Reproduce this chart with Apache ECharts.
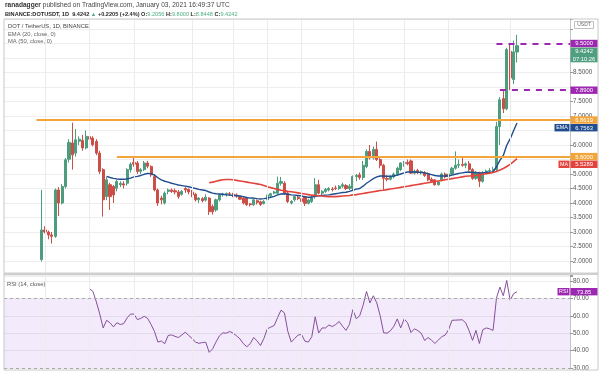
<!DOCTYPE html>
<html><head><meta charset="utf-8">
<script src="https://cdn.jsdelivr.net/npm/echarts@6/dist/echarts.min.js"></script>
<style>html,body{margin:0;padding:0;background:#fff}#c{width:600px;height:371px}</style>
</head><body><div id="c"></div><script>
// ---- data (daily candles, index 0 = first day) ----
const opens = [2.05,3.07,3.0,2.9,2.85,4.45,4.0,4.57,5.51,6.07,5.72,6.13,6.16,5.9,6.29,6.24,6.12,5.72,5.15,4.22,
4.63,4.57,4.51,4.63,4.66,4.68,5.15,5.4,5.38,5.09,5.15,5.38,5.26,4.91,4.45,4.17,4.0,4.4,4.45,4.42,
4.38,4.3,4.5,4.47,4.38,4.3,4.11,4.15,4.1,4.17,3.88,3.76,4.11,4.28,4.3,4.32,4.3,4.28,4.22,4.17,
4.17,3.97,3.94,4.08,4.04,3.98,4.11,4.26,4.34,4.34,4.68,4.68,4.34,4.0,4.11,4.2,4.15,4.22,3.99,4.05,
4.22,4.63,4.34,4.4,4.45,4.48,4.52,4.5,4.58,4.6,4.5,4.5,4.91,4.97,4.88,5.26,5.78,5.55,5.85,5.5,
5.3,4.85,4.82,4.9,4.97,5.15,5.36,5.4,5.45,5.03,5.12,5.05,5.05,5.0,4.82,4.8,4.63,4.8,5.0,4.9,
5.0,5.2,5.3,5.33,5.3,5.35,5.15,4.85,5.05,4.75,5.05,5.1,5.12,5.15,6.64,7.6,7.25,9.23,8.26,9.2056];
const highs = [4.45,3.2,3.05,3.0,4.5,4.55,4.65,5.55,6.2,6.77,6.55,6.3,6.35,6.5,6.87,6.3,6.2,5.8,5.2,4.9,
4.7,4.62,4.8,4.75,4.75,5.2,5.4,5.6,5.45,5.2,5.45,5.45,5.3,5.0,4.5,4.25,4.4,4.5,4.5,4.5,
4.45,4.45,4.55,4.5,4.45,4.35,4.2,4.2,4.3,4.2,3.95,4.15,4.32,4.35,4.36,4.38,4.35,4.33,4.25,4.2,
4.2,4.0,4.15,4.12,4.08,4.1,4.32,4.35,4.42,4.91,4.9,4.75,4.4,4.1,4.25,4.25,4.2,4.25,4.15,4.25,
4.86,4.8,4.45,4.52,4.55,4.55,4.6,4.62,4.7,4.65,4.65,4.95,5.0,5.05,5.45,5.85,6.0,5.95,6.12,5.6,
5.35,4.95,4.95,5.05,5.25,5.4,5.45,5.5,5.5,5.15,5.18,5.12,5.1,5.05,4.88,4.82,4.75,5.05,5.05,5.05,
5.25,5.78,5.5,5.6,5.4,5.45,5.2,5.1,5.08,5.1,5.15,5.2,5.25,6.8,7.65,7.9,9.35,9.5,9.6,9.8];
const lows = [1.98,2.95,2.75,2.6,2.8,3.55,3.95,4.5,5.4,5.15,5.6,6.0,5.8,5.85,6.1,5.95,5.65,5.0,3.53,4.1,
3.76,4.0,4.4,4.55,4.5,4.6,5.05,5.25,5.0,5.0,5.1,5.2,4.9,4.4,3.9,3.95,3.95,4.3,4.35,4.3,
4.15,4.25,4.35,4.3,4.2,4.05,4.0,4.02,4.05,3.59,3.6,3.7,4.05,4.22,4.22,4.25,4.2,4.18,4.1,3.95,
3.9,3.88,3.9,3.95,3.9,3.95,4.05,4.2,4.3,4.3,4.6,4.3,4.0,3.95,4.05,4.1,4.0,3.9,3.95,4.0,
4.15,4.3,4.25,4.35,4.4,4.4,4.45,4.45,4.52,4.45,4.45,4.45,4.75,4.8,4.8,5.2,5.5,5.5,5.45,5.2,
4.45,4.75,4.78,4.85,4.95,5.1,5.25,5.3,5.0,4.98,5.0,4.98,4.9,4.75,4.7,4.6,4.6,4.75,4.85,4.85,
4.95,5.15,5.2,5.25,5.2,5.1,4.8,4.8,4.55,4.7,5.0,5.02,5.05,5.1,6.0,7.1,7.2,7.89,8.1,8.8448];
const closes = [3.07,3.0,2.9,2.85,4.45,4.0,4.57,5.49,6.09,5.66,6.18,6.2,5.9,6.3,6.2,6.01,5.72,5.09,4.11,4.8,
4.22,4.28,4.74,4.68,4.62,5.15,5.34,5.34,5.09,5.15,5.38,5.27,4.97,4.45,4.0,4.11,4.34,4.45,4.4,4.38,
4.22,4.4,4.45,4.38,4.28,4.11,4.17,4.08,4.2,3.7,3.7,4.11,4.28,4.31,4.33,4.3,4.26,4.24,4.13,4.0,
3.94,3.94,4.11,4.02,3.95,4.05,4.28,4.32,4.38,4.68,4.74,4.34,4.05,4.05,4.22,4.15,4.05,3.99,4.1,4.2,
4.63,4.34,4.4,4.47,4.5,4.46,4.5,4.58,4.63,4.5,4.58,4.91,4.95,4.88,5.3,5.78,5.55,5.85,5.5,5.3,
4.85,4.82,4.9,5.0,5.2,5.38,5.4,5.35,5.03,5.1,5.05,5.08,4.95,4.8,4.75,4.63,4.72,5.0,4.9,5.0,
5.2,5.3,5.33,5.3,5.35,5.15,4.85,5.05,4.75,5.05,5.1,5.12,5.15,6.64,7.56,7.25,9.29,8.31,9.21,9.4242];
const emaStart = 19;
const ema20 = [4.92,4.88,4.85,4.83,4.82,4.82,4.83,4.86,4.9,4.92,
4.95,4.99,5.02,5.01,4.96,4.87,4.8,4.75,4.72,4.68,
4.65,4.62,4.6,4.58,4.56,4.53,4.5,4.47,4.45,4.43,
4.38,4.34,4.32,4.31,4.3,4.28,4.27,4.26,4.25,4.24,
4.22,4.19,4.17,4.17,4.15,4.14,4.15,4.17,4.2,4.23,
4.28,4.31,4.32,4.3,4.28,4.27,4.26,4.24,4.21,4.2,
4.2,4.24,4.25,4.26,4.27,4.28,4.3,4.32,4.34,4.36,
4.37,4.4,4.44,4.48,4.5,4.58,4.68,4.76,4.84,4.9,
4.93,4.93,4.92,4.92,4.93,4.96,5.0,5.04,5.07,5.07,
5.07,5.06,5.05,5.04,5.01,4.98,4.95,4.93,4.93,4.93,
4.94,4.96,4.99,5.02,5.04,5.06,5.07,5.05,5.05,5.03,
5.04,5.05,5.06,5.07,5.25,5.47,5.64,5.99,6.21,6.49,
6.7563];
const maStart = 49;
const ma50 = [4.7,4.72,4.75,4.78,4.8,4.81,4.81,4.8,4.78,4.76,
4.74,4.72,4.7,4.68,4.66,4.64,4.6,4.56,4.53,4.5,
4.47,4.44,4.42,4.4,4.39,4.37,4.35,4.33,4.31,4.29,
4.27,4.26,4.25,4.24,4.23,4.22,4.22,4.22,4.23,4.24,
4.25,4.26,4.28,4.29,4.31,4.33,4.35,4.37,4.39,4.41,
4.43,4.44,4.46,4.48,4.5,4.52,4.54,4.56,4.58,4.6,
4.62,4.64,4.66,4.68,4.7,4.72,4.74,4.76,4.78,4.8,
4.82,4.84,4.86,4.88,4.9,4.92,4.93,4.94,4.95,4.97,
4.99,5.01,5.03,5.05,5.09,5.14,5.19,5.26,5.33,5.43,
5.5289];
const rsiStart = 14;
const rsi14 = [75.5,74,68,61,53,57.4,56,53.6,56,55,
55.5,58.8,61,61,57.8,58.5,59.7,58.5,55,51,
44.9,45.5,44,48.7,49,48.2,47.5,49,50.6,48.7,
47,44.8,44.2,44.6,44.8,39,41,45,48.5,50.2,
50,51,50,48.5,46.7,44,42.2,44,47.5,45.6,
42.9,47,52.5,53.5,54.4,59,63.2,61.7,51,44.9,
47,48.9,49.3,45.4,44.9,48,59.4,50.1,53,53,
54.7,53.8,55,56.7,54,51.6,55,63.5,58.3,60,
66,74,67.4,71.5,67.4,60,50.2,50,51.4,54,
58.2,53,58.2,56,50.4,52.5,51.5,50,45.8,47.5,
46,44.1,46,48,48.9,52,57.4,57.5,57.6,57.7,
56,51.4,45.9,51.6,44.1,52,53,52.5,51.6,70.2,
76.5,71.5,80.3,68.9,72.7,73.85];
// horizontal levels drawn on the chart
const levelValues = [6.8619, 5.6, 9.5, 7.89];
const levelStartDay = [-1.5, 22, 133, 134];
// vertical time grid (day index)
const timeGridDays = [1, 14, 27, 44, 56, 66, 76, 91, 106, 119, 137];
const hiddenPriceTicks = [1.5, 5.5, 6.5, 8, 9, 9.5, 10];

const FONT = '"Liberation Sans", Arial, sans-serif';
const UP = '#4c9d7d', DOWN = '#cb4f47';
const ORANGE = '#f2a53a', PURPLE = '#9c27b0';
const X_MIN = -11, X_MAX = 154.5;

const candleData = closes.map((c, i) => [i, opens[i], c, lows[i], highs[i]]);
const emaData = ema20.map((v, k) => [emaStart + k, v]);
const maData = ma50.map((v, k) => [maStart + k, v]);
const rsiData = rsi14.map((v, k) => [rsiStart + k, v]);

const chart = echarts.init(document.getElementById('c'), null, {width: 600, height: 371});

const levelStyles = [
  {color: ORANGE, width: 2, type: 'solid'},
  {color: ORANGE, width: 2, type: 'solid'},
  {color: PURPLE, width: 2, type: [6, 6]},
  {color: PURPLE, width: 2, type: [6, 6]}
];

const option = {
  animation: false,
  backgroundColor: '#ffffff',
  textStyle: {fontFamily: FONT},
  grid: [
    {left: 4, right: 30, top: 19, height: 256.5},
    {left: 4, right: 30, top: 275.75, height: 92.75}
  ],
  xAxis: [
    {type: 'value', gridIndex: 0, min: X_MIN, max: X_MAX, show: false},
    {type: 'value', gridIndex: 1, min: X_MIN, max: X_MAX, show: false}
  ],
  yAxis: [
    {type: 'value', gridIndex: 0, position: 'right', min: 1.5, max: 10.345, interval: 0.5,
     axisLine: {show: true, onZero: false, lineStyle: {color: '#c4c4c4'}},
     axisTick: {show: true, length: 3, lineStyle: {color: '#9a9a9a'}},
     axisLabel: {fontSize: 6.3, color: '#555', margin: 3, fontFamily: FONT,
       formatter: v => {
         const r = Math.round(v * 2) / 2;
         if (Math.abs(r - v) > 1e-6) return '';
         if (hiddenPriceTicks.some(h => Math.abs(h - v) < 1e-6)) return '';
         return v.toFixed(4);
       }},
     splitLine: {show: true, lineStyle: {color: '#eeeeee', width: 1}}},
    {type: 'value', gridIndex: 1, position: 'right', min: 30, max: 83, interval: 10,
     axisLine: {show: true, onZero: false, lineStyle: {color: '#c4c4c4'}},
     axisTick: {show: true, length: 3, lineStyle: {color: '#9a9a9a'}},
     axisLabel: {fontSize: 6.3, color: '#555', margin: 3, fontFamily: FONT,
       formatter: v => (Math.abs(v % 10) < 1e-6 ? v.toFixed(2) : '')},
     splitLine: {show: true, lineStyle: {color: '#eeeeee', width: 1}}}
  ],
  series: [
    {type: 'line', xAxisIndex: 0, yAxisIndex: 0, data: [], silent: true, z: 1,
     markLine: {silent: true, symbol: 'none', label: {show: false}, animation: false,
       lineStyle: {color: '#ececec', width: 1, type: 'solid'},
       data: timeGridDays.map(d => ({xAxis: d}))}},
    {type: 'line', xAxisIndex: 1, yAxisIndex: 1, data: [], silent: true, z: 1,
     markLine: {silent: true, symbol: 'none', label: {show: false}, animation: false,
       lineStyle: {color: '#ececec', width: 1, type: 'solid'},
       data: timeGridDays.map(d => ({xAxis: d}))}},
    {type: 'candlestick', xAxisIndex: 0, yAxisIndex: 0, data: candleData, barWidth: 2.6, z: 3,
     itemStyle: {color: UP, color0: DOWN, borderColor: UP, borderColor0: DOWN, borderWidth: 1},
     markLine: {silent: true, symbol: 'none', label: {show: false}, animation: false,
       data: levelValues.map((v, k) => [
         {coord: [levelStartDay[k], v], lineStyle: levelStyles[k]},
         {coord: [X_MAX, v]}
       ])}},
    {type: 'line', xAxisIndex: 0, yAxisIndex: 0, data: emaData, showSymbol: false, z: 4,
     lineStyle: {color: '#1f4d8f', width: 1.4}},
    {type: 'line', xAxisIndex: 0, yAxisIndex: 0, data: maData, showSymbol: false, z: 4,
     lineStyle: {color: '#e2433c', width: 1.6}},
    {type: 'line', xAxisIndex: 1, yAxisIndex: 1, data: rsiData, showSymbol: false, z: 4,
     lineStyle: {color: '#86509a', width: 1},
     markArea: {silent: true, itemStyle: {color: 'rgba(150, 60, 215, 0.11)'},
       data: [[{yAxis: 70}, {yAxis: 30}]]},
     markLine: {silent: true, symbol: 'none', label: {show: false}, animation: false,
       lineStyle: {color: '#a8a8a8', width: 1, type: [3, 3]},
       data: [{yAxis: 70}, {yAxis: 30}]}}
  ]
};
chart.setOption(option);

// ---- overlay texts & axis tags ----
const py = v => chart.convertToPixel({yAxisIndex: 0}, v);
const ry = v => chart.convertToPixel({yAxisIndex: 1}, v);
const G = [];
function rect(x, y, w, h, fill, stroke) {
  G.push({type: 'rect', silent: true, z: 100, shape: {x, y, width: w, height: h},
    style: {fill: fill || 'none', stroke: stroke || null, lineWidth: 1}});
}
function text(x, y, t, o) {
  G.push({type: 'text', silent: true, z: 101, x, y,
    style: Object.assign({text: t, fontFamily: FONT, fontSize: 6, fill: '#444', verticalAlign: 'middle', align: 'left'}, o || {})});
}
// frame and pane separator
rect(4, 19, 594, 351, null, '#c8c8c8');
G.push({type: 'rect', silent: true, z: 99, shape: {x: 4, y: 272.5, width: 594, height: 2.6}, style: {fill: '#cfcfcf'}});

// header
text(5, 5.5, '{b|ranadagger} published on TradingView.com, January 03, 2021 16:49:37 UTC',
  {fontSize: 6.6, fill: '#444', rich: {b: {fontWeight: 'bold', fontSize: 6.6, fill: '#333', fontFamily: FONT}}});
const GR = '#4caf84';
text(5, 14, '{b|BINANCE:DOTUSDT, 1D  9.4242 }{g|\u25B2 }{b|+0.2205 (+2.4%) O:}{g|9.2056 }{b|H:}{g|9.8000 }{b|L:}{g|8.8448 }{b|C:}{g|9.4242}',
  {fontSize: 5.6, rich: {
    b: {fontWeight: 'bold', fontSize: 5.6, fill: '#2a2a2a', fontFamily: FONT},
    g: {fontSize: 5.6, fill: GR, fontFamily: FONT}}});
// pane legends
text(8, 26, 'DOT / TetherUS, 1D, BINANCE', {fontSize: 5.8, fill: '#444'});
text(8, 34, 'EMA (20, close, 0)', {fontSize: 5.8, fill: '#666'});
text(8, 41.5, 'MA (50, close, 0)', {fontSize: 5.8, fill: '#666'});
text(7, 284, 'RSI (14, close)', {fontSize: 5.8, fill: '#555'});
// USDT unit box
rect(574.5, 21.5, 19, 7, '#fff', '#c0c0c0');
text(584, 25, 'USDT', {fontSize: 5, fill: '#666', align: 'center'});

// axis value tags with simple stacking to avoid overlap
const BX = 570.5, BW = 27, BH = 7.4;
const tags = [
  {v: 9.5, lines: ['9.5000'], fill: PURPLE},
  {v: 9.4242, lines: ['9.4242', '07:10:26'], fill: '#4f9e80'},
  {v: 7.89, lines: ['7.8900'], fill: PURPLE},
  {v: 6.8619, lines: ['6.8619'], fill: ORANGE},
  {v: ema20[ema20.length - 1], lines: ['6.7563'], fill: '#1f4d8f', tag: 'EMA'},
  {v: 5.6, lines: ['5.6000'], fill: ORANGE},
  {v: ma50[ma50.length - 1], lines: ['5.5289'], fill: '#e2433c', tag: 'MA'}
];
let prevBottom = -1e9;
tags.forEach(t => {
  const h = BH * t.lines.length;
  let top = py(t.v) - BH / 2;
  if (top < prevBottom + 0.3) top = prevBottom + 0.3;
  prevBottom = top + h;
  rect(BX, top, BW, h, t.fill);
  t.lines.forEach((ln, k) => text(BX + BW / 2, top + BH / 2 + k * BH + 0.3, ln, {fontSize: 5.8, fill: '#fff', align: 'center'}));
  if (t.tag) {
    const tw = t.tag.length * 4 + 3;
    rect(BX - tw - 1, top, tw, BH, t.fill);
    text(BX - 1 - tw / 2, top + BH / 2 + 0.3, t.tag, {fontSize: 5.4, fill: '#fff', align: 'center'});
  }
});
// RSI tag
const rsiLast = rsi14[rsi14.length - 1];
const rTop = ry(rsiLast) - BH / 2;
rect(BX, rTop, BW, BH, '#9c27b0');
text(BX + BW / 2, rTop + BH / 2 + 0.3, rsiLast.toFixed(2), {fontSize: 5.8, fill: '#fff', align: 'center'});
rect(BX - 13, rTop, 12, BH, '#9c27b0');
text(BX - 7, rTop + BH / 2 + 0.3, 'RSI', {fontSize: 5.4, fill: '#fff', align: 'center'});

chart.setOption({graphic: G});
</script></body></html>
